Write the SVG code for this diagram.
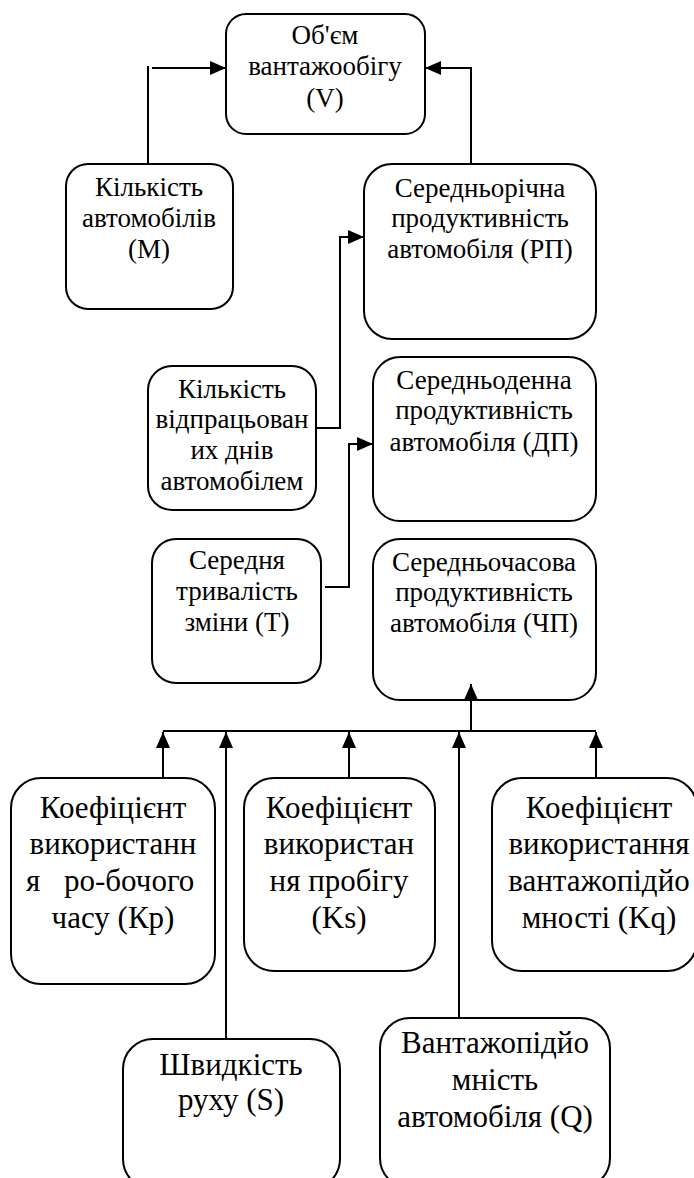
<svg xmlns="http://www.w3.org/2000/svg" width="694" height="1178" viewBox="0 0 694 1178">
<style>
.box{fill:#fff;stroke:#000;stroke-width:2}
.c{fill:none;stroke:#000;stroke-width:2}
.t,.tb{font-family:"Liberation Serif","Times New Roman",serif;fill:#000;text-anchor:middle}
.t{font-size:27px}
.tb{font-size:31px}
.ls{text-anchor:start}
</style>
<defs>
<marker id="ah" markerUnits="userSpaceOnUse" markerWidth="16" markerHeight="14" refX="16" refY="7" orient="auto">
<path d="M0,0 L16,7 L0,14 z" fill="#000"/>
</marker>
</defs>
<rect width="694" height="1178" fill="#fff"/>
<g id="n-v"><rect class="box" x="226" y="14" width="199" height="120" rx="20"/>
<text class="t" x="325" y="44">Об'єм</text><text class="t" x="325" y="75">вантажообігу</text><text class="t" x="325" y="107">(V)</text></g>
<g id="n-m"><rect class="box" x="66" y="164" width="167" height="145" rx="22"/>
<text class="t" x="149" y="196">Кількість</text><text class="t" x="149" y="227">автомобілів</text><text class="t" x="149" y="258">(M)</text></g>
<g id="n-rp"><rect class="box" x="364" y="164" width="232" height="175" rx="28"/>
<text class="t" x="480" y="197">Середньорічна</text><text class="t" x="480" y="227">продуктивність</text><text class="t" x="480" y="258">автомобіля (РП)</text></g>
<g id="n-d"><rect class="box" x="148" y="366" width="168" height="144" rx="24"/>
<text class="t" x="232" y="398">Кількість</text><text class="t" x="232" y="428">відпрацьован</text><text class="t" x="232" y="459">их днів</text><text class="t" x="232" y="490">автомобілем</text></g>
<g id="n-dp"><rect class="box" x="373" y="357" width="223" height="164" rx="27"/>
<text class="t" x="484" y="389">Середньоденна</text><text class="t" x="484" y="419">продуктивність</text><text class="t" x="484" y="451">автомобіля (ДП)</text></g>
<g id="n-t"><rect class="box" x="152" y="539" width="169" height="144" rx="24"/>
<text class="t" x="237" y="569">Середня</text><text class="t" x="237" y="600">тривалість</text><text class="t" x="237" y="631">зміни (Т)</text></g>
<g id="n-chp"><rect class="box" x="373" y="539" width="223" height="161" rx="27"/>
<text class="t" x="484" y="571">Середньочасова</text><text class="t" x="484" y="601">продуктивність</text><text class="t" x="484" y="632">автомобіля (ЧП)</text></g>
<g id="n-kp"><rect class="box" x="11" y="778" width="204" height="206" rx="30"/>
<text class="tb" x="113" y="818">Коефіцієнт</text><text class="tb" x="113" y="854">використанн</text><text class="tb ls" y="891"><tspan x="26">я</tspan><tspan x="64">ро-бочого</tspan></text><text class="tb" x="113" y="928">часу (Кр)</text></g>
<g id="n-ks"><rect class="box" x="244" y="778" width="191" height="193" rx="30"/>
<text class="tb" x="339" y="818">Коефіцієнт</text><text class="tb" x="339" y="854">використан</text><text class="tb" x="339" y="891">ня пробігу</text><text class="tb" x="339" y="928">(Ks)</text></g>
<g id="n-kq"><rect class="box" x="492" y="778" width="205" height="193" rx="30"/>
<text class="tb" x="599" y="818">Коефіцієнт</text><text class="tb" x="599" y="854">використання</text><text class="tb" x="599" y="891">вантажопідйо</text><text class="tb" x="599" y="928">мності (Kq)</text></g>
<g id="n-s"><rect class="box" x="123" y="1039" width="217" height="150" rx="30"/>
<text class="tb" x="231" y="1075">Швидкість</text><text class="tb" x="231" y="1110">руху (S)</text></g>
<g id="n-q"><rect class="box" x="380" y="1018" width="230" height="170" rx="30"/>
<text class="tb" x="495" y="1053">Вантажопідйо</text><text class="tb" x="495" y="1090">мність</text><text class="tb" x="495" y="1127">автомобіля (Q)</text></g>
<g id="connectors">
<line class="c" x1="148" y1="164" x2="148" y2="66"/>
<line class="c" x1="152" y1="68" x2="226" y2="68" marker-end="url(#ah)"/>
<polyline class="c" points="471,164 471,68 425,68" marker-end="url(#ah)"/>
<polyline class="c" points="316,428 340,428 340,237 364,237" marker-end="url(#ah)"/>
<polyline class="c" points="325,587 349,587 349,444 373,444" marker-end="url(#ah)"/>
<line class="c" x1="163" y1="731" x2="596" y2="731"/>
<line class="c" x1="471" y1="731" x2="471" y2="684" marker-end="url(#ah)"/>
<line class="c" x1="163" y1="778" x2="163" y2="732" marker-end="url(#ah)"/>
<line class="c" x1="226" y1="1039" x2="226" y2="732" marker-end="url(#ah)"/>
<line class="c" x1="349" y1="778" x2="349" y2="732" marker-end="url(#ah)"/>
<line class="c" x1="459" y1="1018" x2="459" y2="732" marker-end="url(#ah)"/>
<line class="c" x1="596" y1="778" x2="596" y2="732" marker-end="url(#ah)"/>
</g>
</svg>
